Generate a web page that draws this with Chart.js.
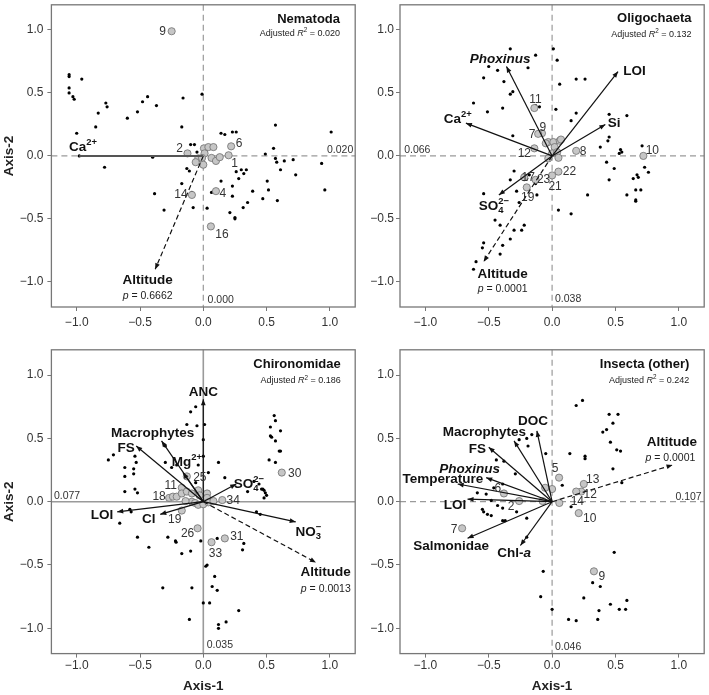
<!DOCTYPE html>
<html>
<head>
<meta charset="utf-8">
<script src="https://cdn.jsdelivr.net/npm/chart.js@4.4.1/dist/chart.umd.min.js"></script>
<style>
  html, body { margin: 0; padding: 0; background: #fff; }
  #wrap { position: relative; width: 709px; height: 695px; }
  #wrap > div { position: absolute; }
</style>
</head>
<body>
<div id="wrap">
  <div style="left:0;top:0;width:360px;height:345px"><canvas id="c1"></canvas></div>
  <div style="left:360px;top:0;width:349px;height:345px"><canvas id="c2"></canvas></div>
  <div style="left:0;top:345px;width:360px;height:350px"><canvas id="c3"></canvas></div>
  <div style="left:360px;top:345px;width:349px;height:350px"><canvas id="c4"></canvas></div>
</div>
<script>
const tickVals = [-1, -0.5, 0, 0.5, 1];

// Nematoda
const nemaSites = [[-1.06,0.645],[-1.06,0.63],[-0.96,0.61],[-1.06,0.54],[-1.06,0.50],[-1.03,0.47],[-1.02,0.45],[-1.0,0.18],[-0.98,0.0],[-0.77,0.42],[-0.76,0.39],[-0.83,0.34],[-0.85,0.23],[-0.78,-0.09],[-0.60,0.30],[-0.52,0.35],[-0.48,0.43],[-0.44,0.47],[-0.37,0.40],[-0.40,-0.01],[-0.385,-0.30],[-0.31,-0.43],[-0.16,0.46],[-0.17,0.23],[-0.17,-0.22],[-0.13,-0.10],[-0.11,-0.12],[-0.10,0.09],[-0.07,0.09],[-0.05,0.03],[-0.01,0.49],[-0.08,-0.41],[-0.09,-0.29],[-0.09,-0.32],[0.03,-0.415],[0.065,-0.29],[0.14,0.18],[0.17,0.17],[0.23,0.19],[0.26,0.19],[0.14,-0.20],[0.21,-0.45],[0.25,-0.49],[0.25,-0.50],[0.23,-0.24],[0.23,-0.32],[0.26,-0.125],[0.28,-0.18],[0.30,-0.11],[0.315,-0.41],[0.32,-0.14],[0.34,-0.11],[0.35,-0.37],[0.39,-0.28],[0.47,-0.34],[0.49,0.015],[0.505,-0.20],[0.515,-0.27],[0.555,0.06],[0.57,0.245],[0.57,-0.02],[0.58,-0.05],[0.585,-0.355],[0.61,-0.11],[0.64,-0.04],[0.71,-0.03],[0.73,-0.15],[0.935,-0.06],[0.96,-0.27],[1.01,0.19],[0.0,-0.07]];
const nemaTaxa = [[-0.25,0.99],[-0.125,0.02],[0.005,0.06],[0.04,0.07],[0.08,0.07],[0.01,0.02],[-0.04,-0.02],[-0.01,-0.016],[0.065,-0.016],[0.10,-0.04],[0.13,-0.01],[0.0,-0.07],[-0.06,-0.05],[0.20,0.005],[0.22,0.076],[0.10,-0.28],[-0.09,-0.31],[0.06,-0.56]];
const nemaTaxonIds = ['9','2','','','','','','','','','','','','1','6','4','14','16'];
const nemaVars = ['Ca^{2+}'];
const nemaVarX = [-0.98];
const nemaVarY = [0.0];
const nemaAltitude = [-0.38, -0.90];
const nemaP = '0.6662';
const nemaR2 = '0.020';
const nemaAxisVals = ['0.020', '0.000'];

// Oligochaeta
const oligoSites = [[-0.33,0.85],[-0.13,0.80],[0.01,0.85],[0.04,0.76],[-0.50,0.71],[-0.43,0.68],[-0.19,0.70],[-0.54,0.62],[-0.38,0.59],[-0.31,0.51],[-0.33,0.49],[0.06,0.57],[0.19,0.61],[0.26,0.61],[-0.62,0.42],[-0.51,0.35],[-0.39,0.38],[-0.10,0.39],[0.03,0.37],[0.19,0.34],[0.15,0.28],[0.45,0.33],[0.59,0.32],[-0.31,0.16],[0.45,0.15],[0.44,0.12],[0.38,0.07],[0.54,0.05],[0.55,0.03],[0.53,0.02],[0.71,0.08],[0.43,-0.05],[0.49,-0.10],[0.45,-0.19],[0.73,-0.09],[0.76,-0.13],[0.67,-0.15],[0.68,-0.17],[0.64,-0.18],[0.70,-0.27],[0.66,-0.27],[0.59,-0.31],[0.66,-0.35],[0.66,-0.36],[0.28,-0.31],[0.05,-0.43],[0.15,-0.46],[-0.30,-0.12],[-0.33,-0.19],[-0.54,-0.30],[-0.28,-0.28],[-0.20,-0.18],[-0.18,-0.15],[-0.13,-0.22],[-0.12,-0.31],[-0.26,-0.37],[-0.45,-0.51],[-0.41,-0.55],[-0.30,-0.59],[-0.24,-0.59],[-0.22,-0.55],[-0.33,-0.66],[-0.54,-0.69],[-0.55,-0.73],[-0.39,-0.71],[-0.41,-0.78],[-0.60,-0.84],[-0.62,-0.90],[-0.13,0.40],[-0.23,-0.17]];
const oligoTaxa = [[-0.14,0.38],[-0.08,0.18],[-0.11,0.175],[-0.14,0.06],[0.19,0.04],[0.72,0.0],[0.05,-0.125],[0.0,-0.155],[-0.20,-0.25],[-0.13,-0.19],[-0.22,-0.17],[-0.03,0.11],[0.01,0.11],[0.06,0.12],[0.07,0.13],[0.02,0.07],[0.0,0.02],[0.04,0.03],[0.05,-0.015],[-0.03,-0.02],[-0.05,0.10]];
const oligoTaxonIds = ['11','9','7','12','8','10','22','21','19','23','17','','','','','','','','','',''];
const oligoVars = ['*Phoxinus*', 'LOI', 'Ca^{2+}', 'Si', 'SO_{4}^{2\u2212}'];
const oligoVarX = [-0.36, 0.52, -0.68, 0.42, -0.42];
const oligoVarY = [0.71, 0.67, 0.26, 0.25, -0.31];
const oligoAltitude = [-0.54, -0.84];
const oligoP = '0.0001';
const oligoR2 = '0.132';
const oligoAxisVals = ['0.066', '0.038'];

// Chironomidae
const chiroSites = [[-0.75,0.33],[-0.71,0.37],[-0.62,0.27],[-0.62,0.20],[-0.54,0.36],[-0.53,0.31],[-0.55,0.26],[-0.55,0.22],[-0.54,0.10],[-0.52,0.07],[-0.62,0.08],[-0.58,-0.06],[-0.57,-0.08],[-0.66,-0.17],[-0.52,-0.28],[-0.43,-0.36],[-0.32,-0.68],[-0.28,-0.28],[-0.22,-0.31],[-0.215,-0.32],[-0.17,-0.41],[-0.10,-0.39],[-0.09,-0.68],[-0.11,-0.93],[-0.02,-0.31],[0.02,-0.51],[0.03,-0.50],[0.11,-0.29],[0.09,-0.59],[0.07,-0.67],[0.11,-0.70],[0.0,-0.80],[0.05,-0.80],[0.12,-0.97],[0.12,-1.0],[0.18,-0.95],[0.28,-0.86],[0.32,-0.33],[0.31,-0.38],[0.42,-0.08],[0.45,-0.10],[-0.10,0.71],[-0.06,0.75],[-0.13,0.61],[-0.05,0.60],[0.01,0.61],[0.0,0.49],[0.0,0.36],[-0.04,0.29],[-0.30,0.44],[-0.30,0.31],[-0.25,0.27],[-0.21,0.29],[-0.06,0.15],[0.12,0.31],[0.04,0.23],[0.17,0.19],[0.35,0.08],[0.46,0.10],[0.49,0.07],[0.50,0.05],[0.48,0.03],[0.56,0.68],[0.57,0.64],[0.53,0.59],[0.54,0.51],[0.53,0.52],[0.57,0.48],[0.61,0.56],[0.60,0.40],[0.61,0.40],[0.52,0.33],[0.57,0.31],[0.40,0.16],[0.44,0.14],[0.47,0.10],[0.48,0.09]];
const chiroTaxa = [[0.62,0.23],[0.15,0.013],[0.17,-0.29],[0.065,-0.32],[-0.045,-0.21],[-0.17,-0.07],[-0.27,0.03],[-0.24,0.04],[-0.21,0.04],[-0.17,0.11],[-0.13,0.20],[-0.17,0.065],[-0.13,0.08],[-0.09,0.065],[-0.04,0.09],[-0.03,0.05],[0.03,0.065],[0.03,0.03],[-0.09,0.0],[-0.065,-0.01],[-0.04,-0.025],[0.0,-0.02],[0.04,-0.005],[0.08,0.005],[-0.14,0.005]];
const chiroTaxonIds = ['30','34','31','33','26','19','18','','','11','25','','','','','','','','','','','','','',''];
const chiroVars = ['ANC', 'Macrophytes', 'FS', 'Mg^{2+}', 'SO_{4}^{2\u2212}', 'NO_{3}^{\u2212}', 'LOI', 'Cl'];
const chiroVarX = [0.0, -0.33, -0.53, -0.16, 0.26, 0.73, -0.68, -0.34];
const chiroVarY = [0.81, 0.48, 0.44, 0.23, 0.14, -0.16, -0.08, -0.10];
const chiroAltitude = [0.89, -0.48];
const chiroP = '0.0013';
const chiroR2 = '0.186';
const chiroAxisVals = ['0.077', '0.035'];

// Insecta (other)
const insSites = [[0.19,0.76],[0.24,0.80],[0.45,0.69],[0.52,0.69],[0.48,0.62],[0.40,0.55],[0.43,0.57],[0.46,0.47],[0.51,0.41],[0.54,0.40],[0.26,0.36],[0.26,0.34],[0.14,0.38],[0.48,0.26],[0.55,0.15],[0.08,0.13],[-0.05,0.38],[-0.26,0.49],[-0.20,0.50],[-0.16,0.53],[-0.19,0.44],[-0.44,0.33],[-0.38,0.32],[-0.29,0.22],[-0.46,0.11],[-0.39,0.14],[-0.59,0.07],[-0.52,0.06],[-0.48,0.01],[-0.43,-0.03],[-0.39,-0.05],[-0.28,-0.08],[-0.55,-0.06],[-0.54,-0.08],[-0.51,-0.10],[-0.48,-0.11],[-0.39,-0.15],[-0.37,-0.15],[-0.20,-0.13],[-0.20,-0.28],[0.15,-0.04],[0.49,-0.40],[-0.07,-0.55],[-0.09,-0.75],[0.0,-0.85],[0.13,-0.93],[0.19,-0.94],[0.25,-0.76],[0.32,-0.64],[0.38,-0.67],[0.37,-0.86],[0.36,-0.93],[0.46,-0.81],[0.53,-0.85],[0.58,-0.85],[0.59,-0.78]];
const insTaxa = [[0.055,0.19],[0.25,0.14],[0.23,0.08],[0.19,0.08],[0.057,-0.01],[0.21,-0.09],[0.33,-0.55],[-0.71,-0.21],[-0.38,0.065],[-0.26,0.005],[-0.055,0.11],[0.0,0.10],[-0.075,0.005]];
const insTaxonIds = ['5','13','12','','14','10','9','7','6','2','','',''];
const insVars = ['DOC', 'Macrophytes', 'FS', '*Phoxinus*', 'Temperature', 'LOI', 'Salmonidae', 'Chl-*a*'];
const insVarX = [-0.12, -0.30, -0.50, -0.52, -0.745, -0.667, -0.667, -0.25];
const insVarY = [0.56, 0.48, 0.43, 0.19, 0.14, 0.02, -0.289, -0.346];
const insAltitude = [0.95, 0.29];
const insP = '0.0001';
const insR2 = '0.242';
const insAxisVals = ['0.107', '0.046'];

const FONT = '"Liberation Sans", Arial, Helvetica, sans-serif';

// simple markup: *italic*, ^{sup}, _{sub}
function parseRich(s) {
  const segs = [];
  let buf = '', it = false, i = 0;
  const push = (t, mode) => { if (t) segs.push({ t, mode, it }); };
  while (i < s.length) {
    const c = s[i];
    if (c === '*') { push(buf, 'n'); buf = ''; it = !it; i++; }
    else if ((c === '^' || c === '_') && s[i + 1] === '{') {
      push(buf, 'n'); buf = '';
      const j = s.indexOf('}', i);
      push(s.slice(i + 2, j), c === '^' ? 'sup' : 'sub');
      i = j + 1;
    } else { buf += c; i++; }
  }
  push(buf, 'n');
  return segs;
}

function drawRich(ctx, s, x, y, size, bold, align, color) {
  const segs = parseRich(s);
  let cx = 0, subStart = 0, prev = null;
  segs.forEach(sg => {
    const sz = sg.mode === 'n' ? size : size * 0.7;
    sg.font = (sg.it ? 'italic ' : '') + (bold ? 'bold ' : '') + sz + 'px ' + FONT;
    ctx.font = sg.font;
    const w = ctx.measureText(sg.t).width;
    if (sg.mode === 'sup' && prev && prev.mode === 'sub') {
      sg.x = subStart;
      cx = Math.max(cx, subStart + w);
    } else {
      if (sg.mode === 'sub') subStart = cx;
      sg.x = cx;
      cx += w;
    }
    prev = sg;
  });
  const start = align === 'center' ? x - cx / 2 : align === 'right' ? x - cx : x;
  const base = y + size * 0.36;
  ctx.fillStyle = color;
  ctx.textAlign = 'left';
  ctx.textBaseline = 'alphabetic';
  segs.forEach(sg => {
    const dy = sg.mode === 'sup' ? -size * 0.42 : sg.mode === 'sub' ? size * 0.24 : 0;
    ctx.font = sg.font;
    ctx.fillText(sg.t, start + sg.x, base + dy);
  });
}

function arrowHead(ctx, x0, y0, x1, y1, color) {
  const a = Math.atan2(y1 - y0, x1 - x0);
  const len = 6, w = 2.4;
  ctx.save();
  ctx.fillStyle = color;
  ctx.beginPath();
  ctx.moveTo(x1, y1);
  ctx.lineTo(x1 - len * Math.cos(a) + w * Math.sin(a), y1 - len * Math.sin(a) - w * Math.cos(a));
  ctx.lineTo(x1 - len * Math.cos(a) - w * Math.sin(a), y1 - len * Math.sin(a) + w * Math.cos(a));
  ctx.closePath();
  ctx.fill();
  ctx.restore();
}

const fmtTick = v => (v < 0 ? '\u2212' : '') + Math.abs(v).toFixed(1);

function makePanel(L) {
  const datasets = [];
  L.vars.forEach((name, i) => {
    datasets.push({
      data: [{ x: 0, y: 0 }, { x: L.varX[i], y: L.varY[i] }],
      showLine: true, pointRadius: 0, borderColor: L.varColor || '#111',
      borderWidth: L.varWidth || 1.2, order: 0
    });
  });
  datasets.push({
    data: [{ x: 0, y: 0 }, { x: L.alt[0], y: L.alt[1] }],
    showLine: true, pointRadius: 0, borderColor: '#111', borderWidth: 1.2,
    borderDash: [5, 3], order: 0
  });
  datasets.push({
    data: L.taxa.map(p => ({ x: p[0], y: p[1] })),
    pointRadius: 3.6, pointBackgroundColor: '#c6c6c6', pointBorderColor: '#6e6e6e',
    pointBorderWidth: 0.8, order: 1
  });
  datasets.push({
    data: L.sites.map(p => ({ x: p[0], y: p[1] })),
    pointRadius: 1.6, pointBackgroundColor: '#000', pointBorderWidth: 0, order: 2
  });

  const rda = {
    id: 'rda',
    beforeDatasetsDraw(chart) {
      const { ctx, chartArea: a, scales: { x, y } } = chart;
      ctx.save();
      ctx.strokeStyle = '#9a9a9a';
      ctx.lineWidth = L.solidZero ? 1.6 : 1.2;
      ctx.setLineDash(L.solidZero ? [] : [6, 4]);
      const x0 = x.getPixelForValue(0), y0 = y.getPixelForValue(0);
      ctx.beginPath();
      ctx.moveTo(a.left, y0); ctx.lineTo(a.right, y0);
      ctx.moveTo(x0, a.top); ctx.lineTo(x0, a.bottom);
      ctx.stroke();
      ctx.restore();
    },
    afterDatasetsDraw(chart) {
      const { ctx, chartArea: a, scales: { x, y } } = chart;
      const px = v => x.getPixelForValue(v), py = v => y.getPixelForValue(v);
      const cx0 = px(0), cy0 = py(0);
      // arrowheads
      if (!L.noHead) {
        L.vars.forEach((n, i) => arrowHead(ctx, cx0, cy0, px(L.varX[i]), py(L.varY[i]), L.varColor || '#111'));
      }
      arrowHead(ctx, cx0, cy0, px(L.alt[0]), py(L.alt[1]), '#111');
      // variable labels
      L.vars.forEach((n, i) => {
        const p = L.varLabels[i];
        drawRich(ctx, n, px(p[0]), py(p[1]), 13.5, true, p[2] || 'center', '#111');
      });
      drawRich(ctx, 'Altitude', px(L.altLabel[0]), py(L.altLabel[1]), 13.5, true, L.altLabel[2], '#111');
      drawRich(ctx, '*p* = ' + L.p, px(L.pLabel[0]), py(L.pLabel[1]), 10.5, false, L.pLabel[2], '#222');
      // taxon ids
      L.taxa.forEach((t, i) => {
        const id = L.ids[i];
        if (!id) return;
        const o = L.idOffsets[id] || [8, 0];
        drawRich(ctx, id, px(t[0]) + o[0], py(t[1]) + o[1], 12, false, 'center', '#333');
      });
      // title block
      drawRich(ctx, L.title, px(L.titleXY[0]), py(L.titleXY[1]), 13, true, 'right', '#111');
      drawRich(ctx, 'Adjusted *R*^{2} = ' + L.r2, px(L.titleXY[0]), py(L.r2Y), 9, false, 'right', '#222');
      // axis values
      drawRich(ctx, L.axisVals[0], px(L.ax1[0]), py(L.ax1[1]), 10.5, false, L.ax1[2], '#333');
      drawRich(ctx, L.axisVals[1], px(L.ax2[0]), py(L.ax2[1]), 10.5, false, L.ax2[2], '#333');
      // frame
      ctx.save();
      ctx.strokeStyle = '#777';
      ctx.lineWidth = 1.3;
      ctx.strokeRect(a.left, a.top, a.right - a.left, a.bottom - a.top);
      ctx.restore();
    }
  };

  const noPad = s => { s.paddingTop = 0; s.paddingBottom = 0; s.paddingLeft = 0; s.paddingRight = 0; };

  const axisCommon = (isX) => ({
    type: 'linear', min: -1.2, max: 1.2,
    afterBuildTicks: s => { s.ticks = tickVals.map(v => ({ value: v })); },
    ticks: {
      callback: fmtTick, autoSkip: false, maxRotation: 0,
      font: { size: 12, family: FONT }, color: '#333',
      padding: isX ? L.xTickPad : L.yTickPad
    },
    grid: { display: true, drawOnChartArea: false, drawTicks: true, tickLength: 4, color: '#777', lineWidth: 1 },
    border: { display: false }
  });

  const xs = axisCommon(true);
  xs.title = { display: L.xTitle, text: 'Axis-1', color: '#222', font: { size: 13.5, weight: 'bold', family: FONT }, padding: { top: 0, bottom: 1 } };
  xs.afterFit = s => { s.height = L.xHeight; noPad(s); };
  const ys = axisCommon(false);
  ys.title = { display: L.yTitle, text: 'Axis-2', color: '#222', font: { size: 13.5, weight: 'bold', family: FONT }, padding: { top: 1.6, bottom: 0 } };
  ys.afterFit = s => { s.width = L.yWidth; noPad(s); };

  return new Chart(document.getElementById(L.canvas), {
    type: 'scatter',
    data: { datasets },
    options: {
      responsive: true, maintainAspectRatio: false, animation: false, events: [],
      layout: { padding: { top: L.padTop, right: L.padRight, left: 0, bottom: 0 } },
      plugins: { legend: { display: false }, tooltip: { enabled: false } },
      scales: { x: xs, y: ys }
    },
    plugins: [rda]
  });
}

makePanel({
  canvas: 'c1', sites: nemaSites, taxa: nemaTaxa, ids: nemaTaxonIds,
  vars: nemaVars, varX: nemaVarX, varY: nemaVarY, varColor: '#555', varWidth: 2, noHead: true,
  alt: nemaAltitude, p: nemaP, r2: nemaR2, axisVals: nemaAxisVals, title: 'Nematoda',
  varLabels: [[-0.95, 0.08, 'center']],
  altLabel: [-0.44, -0.98, 'center'], pLabel: [-0.44, -1.105, 'center'],
  titleXY: [1.08, 1.09], r2Y: 0.98,
  ax1: [1.185, 0.057, 'right'], ax2: [0.034, -1.137, 'left'],
  idOffsets: { '9': [-9, -1], '2': [-8, -6], '6': [8, -4], '1': [6, 7], '4': [7, 2], '14': [-11, -1], '16': [11, 7] },
  solidZero: false, xTitle: false, yTitle: true,
  yWidth: 51.4, xHeight: 38, padTop: 1, padRight: 1.4, xTickPad: 4, yTickPad: 4
});

makePanel({
  canvas: 'c2', sites: oligoSites, taxa: oligoTaxa, ids: oligoTaxonIds,
  vars: oligoVars, varX: oligoVarX, varY: oligoVarY,
  alt: oligoAltitude, p: oligoP, r2: oligoR2, axisVals: oligoAxisVals, title: 'Oligochaeta',
  varLabels: [[-0.41, 0.78], [0.65, 0.68], [-0.745, 0.30], [0.49, 0.27], [-0.46, -0.39]],
  altLabel: [-0.39, -0.93, 'center'], pLabel: [-0.39, -1.05, 'center'],
  titleXY: [1.10, 1.097], r2Y: 0.97,
  ax1: [-1.167, 0.057, 'left'], ax2: [0.023, -1.13, 'left'],
  idOffsets: { '11': [1, -9], '9': [1, -7], '7': [-6, 0], '12': [-10, 4], '8': [7, 0], '10': [9, -6], '22': [11, -1], '21': [3, 10], '19': [1, 9], '23': [8, -1], '17': [4, -1] },
  solidZero: false, xTitle: false, yTitle: false,
  yWidth: 40, xHeight: 38, padTop: 1, padRight: 1.7, xTickPad: 4, yTickPad: 2
});

makePanel({
  canvas: 'c3', sites: chiroSites, taxa: chiroTaxa, ids: chiroTaxonIds,
  vars: chiroVars, varX: chiroVarX, varY: chiroVarY,
  alt: chiroAltitude, p: chiroP, r2: chiroR2, axisVals: chiroAxisVals, title: 'Chironomidae',
  varLabels: [[0.0, 0.87], [-0.40, 0.55], [-0.61, 0.43], [-0.13, 0.32], [0.36, 0.15], [0.83, -0.23], [-0.80, -0.10], [-0.43, -0.13]],
  altLabel: [1.165, -0.55, 'right'], pLabel: [1.165, -0.68, 'right'],
  titleXY: [1.086, 1.09], r2Y: 0.96,
  ax1: [-1.18, 0.05, 'left'], ax2: [0.027, -1.125, 'left'],
  idOffsets: { '30': [13, 0], '34': [11, 0], '31': [12, -3], '33': [4, 10], '26': [-10, 4], '19': [-7, 8], '18': [-10, -2], '11': [-11, -3], '25': [13, 0] },
  solidZero: true, xTitle: true, yTitle: true,
  yWidth: 51.4, xHeight: 41.4, padTop: 1.4, padRight: 1.4, xTickPad: 1, yTickPad: 4
});

makePanel({
  canvas: 'c4', sites: insSites, taxa: insTaxa, ids: insTaxonIds,
  vars: insVars, varX: insVarX, varY: insVarY,
  alt: insAltitude, p: insP, r2: insR2, axisVals: insAxisVals, title: 'Insecta (other)',
  varLabels: [[-0.151, 0.645], [-0.534, 0.554], [-0.59, 0.42], [-0.65, 0.262], [-0.862, 0.186], [-0.766, -0.018], [-0.797, -0.346], [-0.30, -0.40]],
  altLabel: [1.143, 0.48, 'right'], pLabel: [1.13, 0.35, 'right'],
  titleXY: [1.083, 1.09], r2Y: 0.966,
  ax1: [1.18, 0.047, 'right'], ax2: [0.023, -1.14, 'left'],
  idOffsets: { '5': [-4, -10], '13': [9, -5], '12': [9, 2], '14': [18, -2], '10': [11, 5], '9': [8, 4], '7': [-8, 0], '6': [-6, -6], '2': [-8, 5] },
  solidZero: false, xTitle: true, yTitle: false,
  yWidth: 40, xHeight: 41.4, padTop: 1.4, padRight: 1.7, xTickPad: 1, yTickPad: 2
});
</script>
</body>
</html>
